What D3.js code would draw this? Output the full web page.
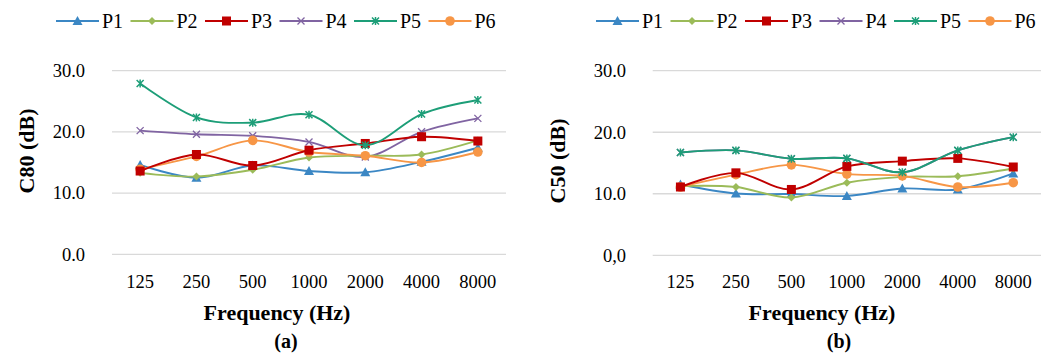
<!DOCTYPE html>
<html>
<head>
<meta charset="utf-8">
<script src="https://cdn.jsdelivr.net/npm/d3@7"></script>
<style>
  body { margin: 0; background: #fff; }
  svg text { font-family: "Liberation Serif", Tinos, "Times New Roman", Times, "DejaVu Serif", serif; fill: #000; }
</style>
</head>
<body>
<script>
// frequencies (Hz)
const freqs = ['125', '250', '500', '1000', '2000', '4000', '8000'];
const seriesNames = ['P1', 'P2', 'P3', 'P4', 'P5', 'P6'];

// C80 (dB), panel (a)
const c80P1 = [14.6, 12.5, 14.5, 13.6, 13.4, 15.1, 17.4];
const c80P2 = [13.3, 12.7, 13.8, 15.8, 16.1, 16.3, 18.6];
const c80P3 = [13.6, 16.3, 14.5, 17.0, 18.1, 19.2, 18.5];
const c80P4 = [20.2, 19.6, 19.35, 18.35, 15.9, 20.0, 22.2];
const c80P5 = [27.9, 22.35, 21.5, 22.8, 17.8, 22.9, 25.2];
const c80P6 = [13.9, 16.0, 18.6, 16.7, 16.1, 15.0, 16.7];

// C50 (dB), panel (b) -- P4 sits under P5
const c50P1 = [11.5, 10.05, 9.95, 9.65, 10.85, 10.7, 13.3];
const c50P2 = [11.25, 11.1, 9.4, 11.8, 12.75, 12.85, 14.1];
const c50P3 = [11.1, 13.4, 10.7, 14.45, 15.3, 15.75, 14.35];
const c50P4 = [16.7, 17.05, 15.7, 15.75, 13.5, 17.05, 19.2];
const c50P5 = [16.7, 17.05, 15.7, 15.75, 13.5, 17.05, 19.2];
const c50P6 = [11.1, 13.1, 14.7, 13.2, 12.9, 11.1, 11.8];

const yTicks = [0, 10, 20, 30];
const yTickLabelsA = ['0.0', '10.0', '20.0', '30.0'];
const yTickLabelsB = ['0,0', '10.0', '20.0', '30.0'];

const colors = ['#3b87c4', '#9bbb59', '#c00000', '#8064a2', '#1d9e78', '#f79646'];
const markers = ['triangle', 'diamond', 'square', 'x', 'asterisk', 'circle'];

const svg = d3.select('body').append('svg')
  .attr('width', 1059)
  .attr('height', 356);

function drawMarker(g, type, color) {
  if (type === 'triangle') {
    g.append('path').attr('d', 'M0,-5L5,4L-5,4Z').attr('fill', color);
  } else if (type === 'diamond') {
    g.append('path').attr('d', 'M0,-4L4,0L0,4L-4,0Z').attr('fill', color);
  } else if (type === 'square') {
    g.append('rect').attr('x', -4.5).attr('y', -4.5).attr('width', 9).attr('height', 9).attr('fill', color);
  } else if (type === 'circle') {
    g.append('circle').attr('r', 4.8).attr('fill', color);
  } else if (type === 'x') {
    g.append('path').attr('d', 'M-3.5,-3.5L3.5,3.5M-3.5,3.5L3.5,-3.5')
      .attr('stroke', color).attr('stroke-width', 1.3);
  } else if (type === 'asterisk') {
    g.append('path').attr('d', 'M-3.5,-3.5L3.5,3.5M-3.5,3.5L3.5,-3.5M0,-4L0,4')
      .attr('stroke', color).attr('stroke-width', 1.5);
  }
}

function drawPanel(opts) {
  const g = svg.append('g');

  const x = d3.scaleBand()
    .domain(freqs)
    .range([opts.x0, opts.x1]);

  const y = d3.scaleLinear()
    .domain([0, 30])
    .range([opts.yBottom, opts.yTop]);

  // gridlines
  g.append('g')
    .selectAll('line')
    .data(yTicks)
    .join('line')
    .attr('x1', opts.x0)
    .attr('x2', opts.x1)
    .attr('y1', d => y(d))
    .attr('y2', d => y(d))
    .attr('stroke', '#d9d9d9')
    .attr('stroke-width', 1.3);

  const yAxis = d3.axisLeft(y)
    .tickValues(yTicks)
    .tickFormat((d, i) => opts.yLabels[i])
    .tickSize(0)
    .tickPadding(0);

  g.append('g')
    .attr('transform', `translate(${opts.yLabelX},0)`)
    .call(yAxis)
    .attr('font-family', null)
    .call(a => a.select('.domain').remove())
    .selectAll('text')
    .attr('font-size', 18.5);

  const xAxis = d3.axisBottom(x)
    .tickSize(0)
    .tickPadding(0);

  g.append('g')
    .attr('transform', `translate(0,${opts.xLabelY})`)
    .call(xAxis)
    .attr('font-family', null)
    .call(a => a.select('.domain').remove())
    .selectAll('text')
    .attr('font-size', 18.5);

  const line = d3.line()
    .x((d, i) => x(freqs[i]) + x.bandwidth() / 2)
    .y(d => y(d))
    .curve(d3.curveCardinal.tension(0));

  const order = [3, 0, 1, 5, 2, 4];
  order.forEach(k => {
    const vals = opts.series[k];
    g.append('path')
      .attr('d', line(vals))
      .attr('fill', 'none')
      .attr('stroke', colors[k])
      .attr('stroke-width', 1.9);
    vals.forEach((v, i) => {
      const m = g.append('g')
        .attr('transform', `translate(${x(freqs[i]) + x.bandwidth() / 2},${y(v)})`);
      drawMarker(m, markers[k], colors[k]);
    });
  });

  // y title
  g.append('text')
    .attr('transform', `translate(${opts.yTitleX},${opts.yTitleY}) rotate(-90)`)
    .attr('text-anchor', 'middle')
    .attr('font-size', 22)
    .attr('font-weight', 'bold')
    .text(opts.yTitle);

  // x title
  g.append('text')
    .attr('x', opts.xTitleX)
    .attr('y', 320)
    .attr('text-anchor', 'middle')
    .attr('font-size', 22)
    .attr('font-weight', 'bold')
    .text('Frequency (Hz)');

  g.append('text')
    .attr('x', opts.capX)
    .attr('y', 348)
    .attr('text-anchor', 'middle')
    .attr('font-size', 20)
    .attr('font-weight', 'bold')
    .text(opts.caption);

  // legend
  const legend = g.append('g');
  seriesNames.forEach((name, k) => {
    const lx = opts.legendX + k * 74.5;
    legend.append('line')
      .attr('x1', lx).attr('x2', lx + 43)
      .attr('y1', 21).attr('y2', 21)
      .attr('stroke', colors[k])
      .attr('stroke-width', 1.8);
    const m = legend.append('g').attr('transform', `translate(${lx + 21.5},21)`);
    drawMarker(m, markers[k], colors[k]);
    legend.append('text')
      .attr('x', lx + 46)
      .attr('y', 28)
      .attr('font-size', 20)
      .text(name);
  });
}

drawPanel({
  x0: 112, x1: 506, yBottom: 254.3, yTop: 70.6,
  yLabelX: 85, xLabelY: 275,
  yLabels: yTickLabelsA,
  series: [c80P1, c80P2, c80P3, c80P4, c80P5, c80P6],
  yTitle: 'C80 (dB)', yTitleX: 34, yTitleY: 151,
  xTitleX: 277, capX: 286, caption: '(a)',
  legendX: 56
});

drawPanel({
  x0: 652.7, x1: 1041, yBottom: 255.3, yTop: 70.7,
  yLabelX: 626, xLabelY: 275,
  yLabels: yTickLabelsB,
  series: [c50P1, c50P2, c50P3, c50P4, c50P5, c50P6],
  yTitle: 'C50 (dB)', yTitleX: 565, yTitleY: 161,
  xTitleX: 822, capX: 839, caption: '(b)',
  legendX: 596
});
</script>
</body>
</html>
